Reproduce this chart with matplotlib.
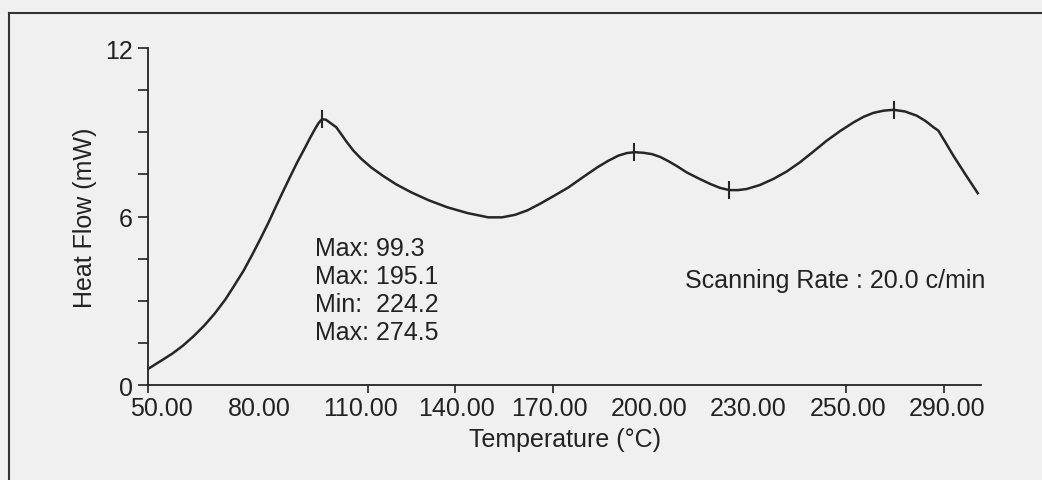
import numpy as np
import matplotlib
matplotlib.use("Agg")
import matplotlib.pyplot as plt
from matplotlib.lines import Line2D

plt.rcParams['font.family'] = ['Liberation Sans', 'DejaVu Sans']

# DSC trace: temperature (deg C) vs heat flow (mW)
temp = [46.0, 50.1, 53.5, 56.7, 60.0, 63.2, 66.5, 69.8, 72.5, 75.3, 78.0, 80.7,
        83.0, 85.1, 87.3, 89.5, 91.7, 93.9, 95.6, 97.2, 98.3, 99.3, 100.5,
        101.8, 103.7, 105.3, 107.0, 109.0, 111.4, 114.5, 118.0, 122.0, 126.7,
        132.0, 137.7, 144.0, 150.3, 154.5, 158.5, 162.3, 166.1, 170.5, 174.9,
        179.3, 183.7, 187.0, 190.2, 192.8, 195.1, 197.8, 200.5, 203.0, 205.5,
        208.3, 211.1, 214.5, 218.3, 221.3, 224.2, 226.8, 229.5, 233.5, 237.7,
        241.7, 245.8, 250.0, 254.0, 258.2, 262.2, 265.3, 268.3, 271.5, 274.5,
        278.0, 281.6, 284.3, 286.7, 288.2, 290.5, 292.8, 296.5, 300.3]
heat = [0.57, 0.87, 1.12, 1.40, 1.74, 2.11, 2.55, 3.06, 3.55, 4.07, 4.65, 5.26,
        5.80, 6.33, 6.87, 7.40, 7.92, 8.40, 8.78, 9.12, 9.33, 9.46, 9.45,
        9.34, 9.18, 8.92, 8.64, 8.34, 8.05, 7.74, 7.45, 7.15, 6.86,
        6.58, 6.33, 6.12, 5.97, 5.97, 6.06, 6.22, 6.45, 6.74, 7.04,
        7.40, 7.75, 7.98, 8.17, 8.26, 8.29, 8.27, 8.22, 8.12, 7.97,
        7.78, 7.57, 7.37, 7.16, 7.02, 6.94, 6.94, 6.98, 7.12, 7.34,
        7.60, 7.93, 8.32, 8.70, 9.05, 9.35, 9.55, 9.69, 9.77, 9.80,
        9.74, 9.59, 9.40, 9.18, 9.06, 8.62, 8.17, 7.50, 6.83]

# picked extrema
peak_kind = ['Max', 'Max', 'Min', 'Max']
peak_temp = [99.3, 195.1, 224.2, 274.5]
peak_heat = [9.46, 8.29, 6.94, 9.80]

xtick_text = ['50.00', '80.00', '110.00', '140.00', '170.00', '200.00',
              '230.00', '250.00', '290.00']
xtick_at = [50, 80, 111, 140.5, 169, 199.6, 230, 260.5, 291]
xmark_at = [46, 80, 113.5, 140, 170, 199.6, 230, 260, 290]
ytick_at = np.arange(0, 12.1, 1.5)
ytick_text = ['0', '', '', '', '6', '', '', '', '12']

bg = '#f0f0f0'
ink = '#222222'

fig = plt.figure(figsize=(10.42, 4.81), dpi=100, facecolor=bg)
ax = fig.add_axes([0.1420, 0.1975, 0.7995, 0.7006])
ax.set_facecolor(bg)

ax.plot(temp, heat, color='#262626', lw=1.8, solid_joinstyle='round')
ax.plot(peak_temp, peak_heat, ls='none', marker='|', ms=13, mew=1.5, color='#262626')

ax.set_xlim(46, 301.3)
ax.set_ylim(0, 12)
for s in ['top', 'right']:
    ax.spines[s].set_visible(False)
for s in ['left', 'bottom']:
    ax.spines[s].set_linewidth(1.3)
    ax.spines[s].set_color(ink)

ax.set_xticks(xtick_at, xtick_text)
ax.set_xticks(xmark_at, minor=True)
ax.tick_params(axis='x', which='major', length=0, pad=8, labelsize=18, labelcolor=ink)
ax.tick_params(axis='x', which='minor', length=6, width=1.2, color=ink)
ax.set_yticks(ytick_at, ytick_text)
ax.tick_params(axis='y', length=7, width=1.2, color=ink, pad=4, labelsize=18, labelcolor=ink)

ax.set_xlabel('Temperature (°C)', fontsize=18, color=ink, labelpad=5)
ax.set_ylabel('Heat Flow (mW)', fontsize=18, color=ink, labelpad=6)

# list of picked extrema
for i, (k, t) in enumerate(zip(peak_kind, peak_temp)):
    gap = ' ' if k == 'Max' else '  '
    ax.text(0.2005, 0.3872 - i * 0.084, f'{k}:{gap}{t}', transform=ax.transAxes,
            fontsize=18, color=ink, va='baseline', ha='left')

ax.text(0.6447, 0.2899, 'Scanning Rate : 20.0 c/min', transform=ax.transAxes,
        fontsize=18, color=ink, va='baseline', ha='left')

# panel border (left and top edges)
fig.add_artist(Line2D([0.0086, 0.0086], [0, 0.9709], color='#333333', lw=1.5))
fig.add_artist(Line2D([0.0086, 1.0], [0.9709, 0.9709], color='#333333', lw=1.5))

fig.savefig('out.png', dpi=100, facecolor=bg)
